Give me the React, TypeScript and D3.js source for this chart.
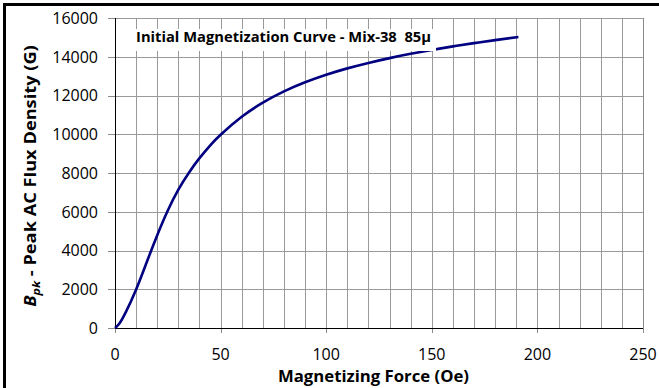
import React from "react";
import * as d3 from "d3";

const hValues = [0, 2, 5, 10, 15, 20, 25, 30, 35, 40, 45, 50, 60, 70, 80, 90, 100, 110, 120, 130, 140, 150, 160, 170, 180, 191];
const bValues = [0, 220, 790, 1990, 3390, 4790, 6065, 7140, 8015, 8765, 9415, 9975, 10900, 11630, 12210, 12680, 13070, 13400, 13680, 13930, 14150, 14350, 14535, 14705, 14860, 15020];
const xTicks = [0, 50, 100, 150, 200, 250];
const yTicks = [0, 2000, 4000, 6000, 8000, 10000, 12000, 14000, 16000];
const xGrid = d3.range(10, 250, 10);
const titleText = "Initial Magnetization Curve - Mix-38  85\u03bc";
const xTitle = "Magnetizing Force (Oe)";

const W = 659, H = 388;
const L = 115, R = 643, T = 18, B = 328;
const FONT = "'Open Sans', sans-serif";

export default function App() {
  const x = d3.scaleLinear().domain([0, 250]).range([L, R]);
  const y = d3.scaleLinear().domain([0, 16000]).range([B, T]);
  const pts = hValues.map((h, i) => [h, bValues[i]] as [number, number]);
  const line = d3.line<[number, number]>().x(d => x(d[0])).y(d => y(d[1])).curve(d3.curveNatural);
  const c = (v: number) => Math.round(v) + 0.5;
  return (
    <svg width={W} height={H} style={{ position: "absolute", left: 0, top: 0, background: "#fff" }} fontFamily={FONT}>
      <rect x={0} y={0} width={W} height={H} fill="#fff" />
      {/* frame */}
      <rect x={3} y={3} width={W} height={3} fill="#000" />
      <rect x={3} y={3} width={3} height={H} fill="#000" />
      {/* grid */}
      {xGrid.map(v => (
        <line key={"gx" + v} x1={c(x(v))} x2={c(x(v))} y1={T} y2={B} stroke="#9a9a9a" strokeWidth={1} />
      ))}
      {yTicks.slice(1).map(v => (
        <line key={"gy" + v} x1={L} x2={R} y1={c(y(v))} y2={c(y(v))} stroke="#9a9a9a" strokeWidth={1} />
      ))}
      <line x1={c(R)} x2={c(R)} y1={T} y2={B + 5} stroke="#8a8a8a" strokeWidth={1} />
      {/* ticks */}
      {yTicks.map(v => (
        <line key={"ty" + v} x1={L - 7} x2={L} y1={c(y(v))} y2={c(y(v))} stroke="#8a8a8a" strokeWidth={1} />
      ))}
      {xTicks.map(v => (
        <line key={"tx" + v} x1={c(x(v))} x2={c(x(v))} y1={B} y2={B + 5} stroke="#8a8a8a" strokeWidth={1} />
      ))}
      {/* axes */}
      <line x1={L} x2={R} y1={c(B)} y2={c(B)} stroke="#000" strokeWidth={1} />
      <line x1={c(L)} x2={c(L)} y1={T} y2={B + 1} stroke="#000" strokeWidth={1} />
      {/* curve */}
      <path d={line(pts) || ""} fill="none" stroke="#000080" strokeWidth={2.6} strokeLinecap="butt" />
      {/* title box */}
      <rect x={133} y={29} width={303} height={22} fill="#fff" />
      <text x={136} y={42} fontSize={14} fontWeight="bold" fill="#000" textLength={295} lengthAdjust="spacingAndGlyphs" style={{ whiteSpace: "pre" }}>{titleText}</text>
      {/* tick labels */}
      {yTicks.map(v => (
        <text key={"ly" + v} x={98} y={y(v)} dy="0.36em" textAnchor="end" fontSize={16} fill="#000">{v}</text>
      ))}
      {xTicks.map(v => (
        <text key={"lx" + v} x={x(v)} y={360} textAnchor="middle" fontSize={16} fill="#000">{v}</text>
      ))}
      {/* axis titles */}
      <text x={278} y={382} fontSize={16} fontWeight="bold" fill="#000" textLength={191} lengthAdjust="spacingAndGlyphs">{xTitle}</text>
      <text transform="translate(36,176) rotate(-90) scale(1.14,1)" textAnchor="middle" fontSize={16} fontWeight="bold" fill="#000">
        <tspan fontStyle="italic">B</tspan>
        <tspan fontStyle="italic" fontSize={11} dy={4}>pk</tspan>
        <tspan dy={-4}>{" - Peak AC Flux Density (G)"}</tspan>
      </text>
    </svg>
  );
}
